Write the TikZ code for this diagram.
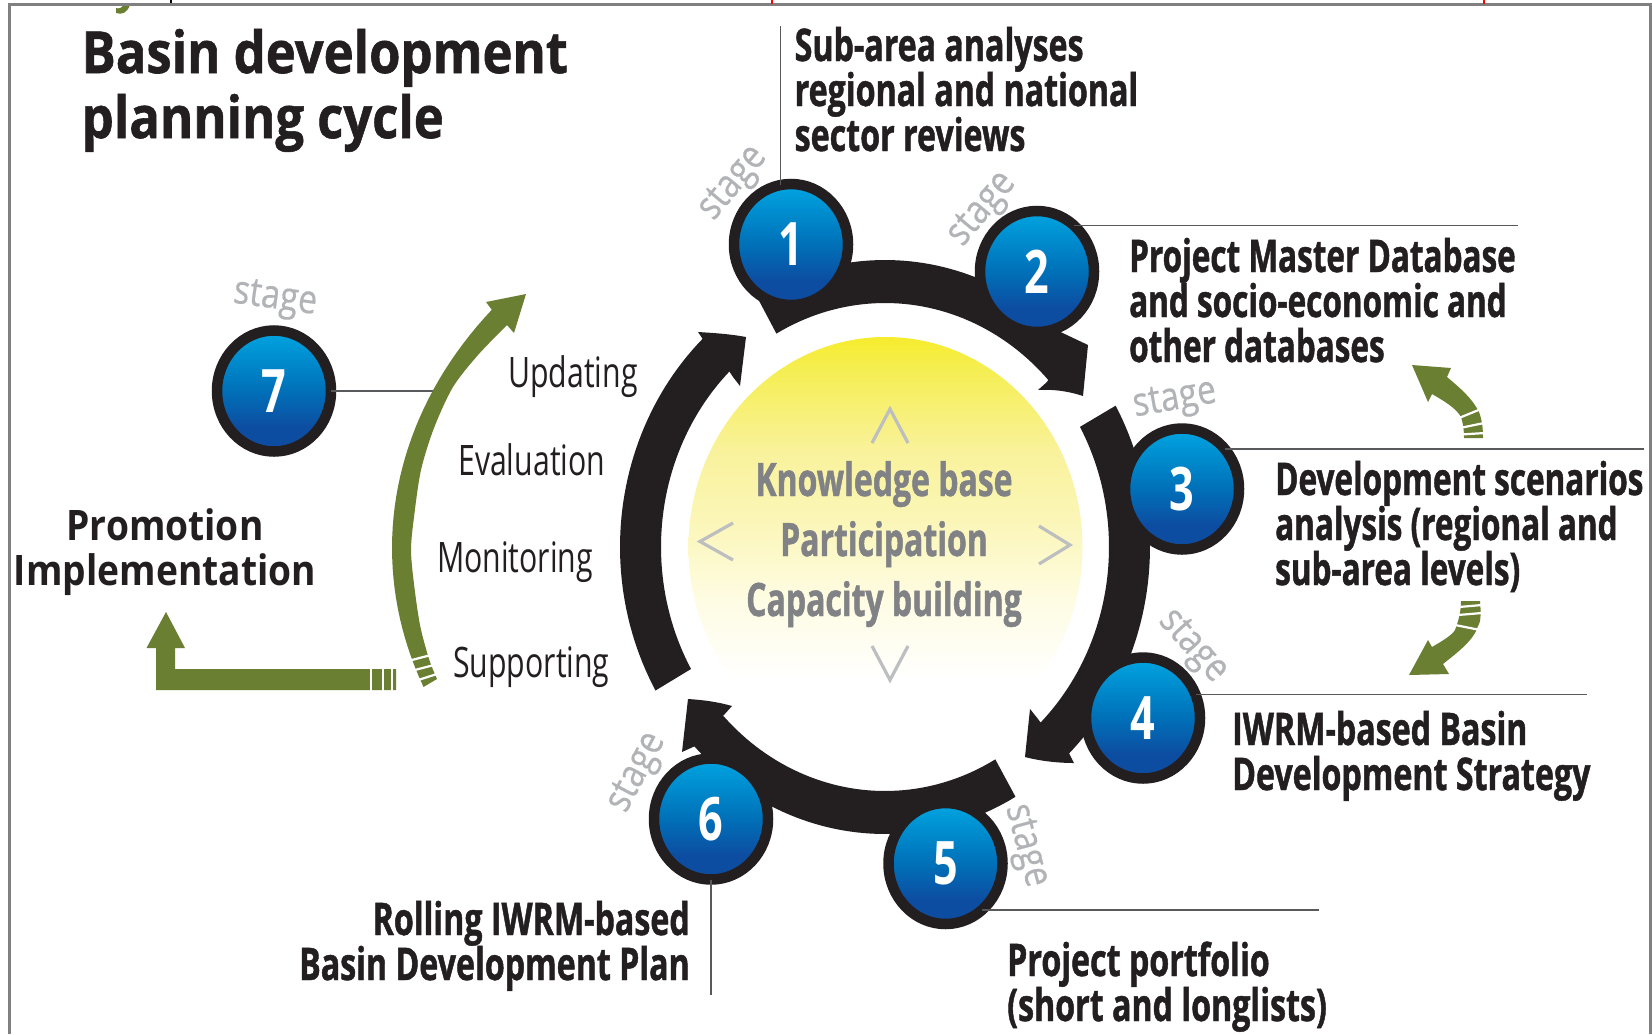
\documentclass[tikz,border=0pt]{standalone}
\usepackage{fontspec}
\usetikzlibrary{shapes.geometric}
\setmainfont{Open Sans}
\newfontfamily\lblfont[FakeStretch=.70,BoldFeatures={FakeBold=1}]{Open Sans}
\newfontfamily\lblwide[FakeStretch=.715,BoldFeatures={FakeBold=1}]{Open Sans}
\newfontfamily\ctrfont[FakeStretch=.695,BoldFeatures={FakeBold=1}]{Open Sans}
\newfontfamily\titlefont[FakeStretch=.875,BoldFeatures={FakeBold=1}]{Open Sans}
\newfontfamily\promofont[FakeStretch=.885]{Open Sans}
\newfontfamily\regfont[FakeStretch=.72]{Open Sans}
\newfontfamily\numfont[FakeStretch=.72]{Open Sans}
\newfontfamily\stagefont[FakeStretch=.84,FakeBold=.4]{Open Sans}
\definecolor{ink}{HTML}{231F20}
\definecolor{leaf}{HTML}{6B7F32}
\definecolor{ctrgray}{HTML}{808285}
\definecolor{chev}{HTML}{BCBEC0}
\definecolor{stagegray}{HTML}{B1B3B6}
\definecolor{rule}{HTML}{58595B}
\definecolor{frame}{HTML}{808080}
\definecolor{bluedeep}{HTML}{0D4DA1}
\definecolor{bluemid}{HTML}{0070B8}
\definecolor{bluetop}{HTML}{00A3E0}
\definecolor{yolka}{HTML}{FEFCE3}
\definecolor{yolkb}{HTML}{FBF6B8}
\definecolor{yolkc}{HTML}{F9F29B}
\definecolor{yolke}{HTML}{F5EE50}
\definecolor{yolkd}{HTML}{F6EC2D}
\pgfdeclareverticalshading{bluey}{100bp}{color(0bp)=(bluedeep);color(35bp)=(bluedeep);color(50bp)=(bluemid);color(74bp)=(bluetop);color(100bp)=(bluetop)}
\pgfdeclareverticalshading{yolk}{100bp}{color(0bp)=(white);color(34bp)=(white);color(43.7bp)=(yolka);color(53bp)=(yolkb);color(61.5bp)=(yolkc);color(71.4bp)=(yolke);color(75bp)=(yolkd);color(100bp)=(yolkd)}
\newcommand\ox{{885+265*cos(\x)}}
\newcommand\oy{{547-287*sin(\x)}}
\newcommand\ix{{885+224*cos(\x)}}
\newcommand\iy{{547-244*sin(\x)}}
\tikzset{
  x=1pt,y=-1pt,
  stagenum/.style={ellipse,draw=ink,line width=10.5pt,shading=bluey,minimum width=114pt,minimum height=121pt,inner sep=0pt,outer sep=0pt,text=white,font=\numfont\bfseries\fontsize{60}{60}\selectfont},
  stagetxt/.style={text=stagegray,inner sep=0pt,font=\stagefont\fontsize{40}{40}\selectfont},
  lbl/.style={text=ink,inner sep=0pt,align=left,anchor=base west,font=\lblfont\bfseries\fontsize{45}{45}\selectfont},
  lblw/.style={lbl,font=\lblwide\bfseries\fontsize{45}{45}\selectfont},
  reglbl/.style={text=ink,inner sep=0pt,anchor=base west,font=\regfont\fontsize{42}{42}\selectfont},
  leader/.style={draw=rule,line width=1.6pt},
  chevron/.style={draw=chev,line width=3.2pt,miter limit=20},
  slit/.style={draw=white,line width=2.2pt},
  arcs/.style={samples=50},
}
\begin{document}
\begin{tikzpicture}
\useasboundingbox (0,0) rectangle (1652,1034);
\fill[white] (0,0) rectangle (1652,1034);
% frame
\fill[leaf] (116,13) .. controls (122,15) and (127,13) .. (130,5) -- (123,5) .. controls (122,8) and (119,9) .. (116,8) -- cycle;
\draw[frame,line width=3pt] (9,1034) -- (9,4.5) -- (1650.5,4.5) -- (1650.5,1034);
\draw[black,line width=2.5pt] (171,0) -- (171,3);
\draw[red,line width=2pt] (772,0) -- (772,4);
\draw[red,line width=2pt] (1484,0) -- (1484,4);
% yolk
\path[shading=yolk] (885.5,547) ellipse [x radius=197pt,y radius=210pt];
\node[text=ctrgray,inner sep=0pt,align=center,anchor=base,font=\ctrfont\bfseries\fontsize{46}{60}\selectfont] (core) at (884,616) {Knowledge base\\Participation\\Capacity building};
\draw[chevron] (872,443) -- (890,409) -- (908,443);
\draw[chevron] (872,646) -- (890,680) -- (908,646);
\draw[chevron] (733,523) -- (700,541.5) -- (733,560);
\draw[chevron] (1039,526) -- (1070,545) -- (1039,564);
% ring
\fill[ink] plot[arcs,domain=119:48.5] (\ox,\oy) -- (1088,345) -- (1083,396) .. controls (1068,391) and (1052,389) .. (1038,390) -- (1047,382) -- plot[arcs,domain=43.2:119] (\ix,\iy) -- cycle;
\fill[ink] plot[arcs,domain=29.5:-46] (\ox,\oy) -- (1074,763) .. controls (1058,763) and (1040,761) .. (1025,757) -- (1030,709) -- (1038,719) -- plot[arcs,domain=-46:29.5] (\ix,\iy) -- cycle;
\fill[ink] plot[arcs,domain=-60.5:-136] (\ox,\oy) -- (682,752) -- (688,699) .. controls (704,700) and (718,702) .. (732,706) -- (723,716) -- plot[arcs,domain=-136:-60.5] (\ix,\iy) -- cycle;
\fill[ink] plot[arcs,domain=210:133.5] (\ox,\oy) -- (698,332) .. controls (714,333) and (730,334) .. (746,337) -- (740,386) -- (733,377) -- plot[arcs,domain=134:210] (\ix,\iy) -- cycle;
% stage discs
\node[stagenum] (c1) at (791,244.5) {1};
\node[stagenum] (c2) at (1037,271.5) {2};
\node[stagenum] (c3) at (1182,489) {3};
\node[stagenum] (c4) at (1143,718) {4};
\node[stagenum] (c5) at (945.5,863.5) {5};
\node[stagenum] (c6) at (711,819) {6};
\node[stagenum] (c7) at (274,391) {7};
% stage words
\node[stagetxt,rotate=50] (s1) at (734,184) {stage};
\node[stagetxt,rotate=50] (s2) at (983,210) {stage};
\node[stagetxt,rotate=10] (s3) at (1175,401) {stage};
\node[stagetxt,rotate=-48] (s4) at (1192,647) {stage};
\node[stagetxt,rotate=-75] (s5) at (1025,846) {stage};
\node[stagetxt,rotate=62] (s6) at (638,773) {stage};
\node[stagetxt,rotate=-8] (s7) at (275,300) {stage};
% leaders
\coordinate (e1) at (c1.100 |- 0,26);
\coordinate (e2) at (1518,225);
\coordinate (e3) at (1644,449);
\coordinate (e4) at (1587,695);
\coordinate (e5) at (1319,910);
\coordinate (e6) at (711,995);
\coordinate (e7) at (436,391);
\draw[leader] (c1.100) -- (e1);
\draw[leader] (c2.51) -- (c2.51 -| e2);
\draw[leader] (c3.43) -- (c3.43 -| e3);
\draw[leader] (c4.24) -- (c4.24 -| e4);
\draw[leader] (c5.-52) -- (c5.-52 -| e5);
\draw[leader] (c6.south) -- (e6);
\draw[leader] (c7.east) -- (e7);
% labels
\node[text=ink,inner sep=0pt,align=left,anchor=base west,font=\titlefont\bfseries\fontsize{58}{65}\selectfont] (title) at (81.5,138) {Basin development\\planning cycle};
\node[lblw] (t1) at (794.5,151) {Sub-area analyses\\regional and national\\sector reviews};
\node[lbl] (t2) at (1129,362) {Project Master Database\\and socio-economic and\\other databases};
\node[lbl] (t3) at (1275,585) {Development scenarios\\analysis (regional and\\sub-area levels)};
\node[lblw] (t4) at (1232,790) {IWRM-based Basin\\Development Strategy};
\node[lblw] (t5) at (1007,1021) {Project portfolio\\(short and longlists)};
\node[lblw,align=right,anchor=base east] (t6) at (690,980) {Rolling IWRM-based\\Basin Development Plan};
\node[text=ink,inner sep=0pt,align=center,anchor=base,font=\promofont\bfseries\fontsize{42}{45}\selectfont] (t7) at (165,585) {Promotion\\Implementation};
\node[reglbl] (u1) at (508,387) {Updating};
\node[reglbl] (u2) at (458,475) {Evaluation};
\node[reglbl] (u3) at (437,572) {Monitoring};
\node[reglbl] (u4) at (453,677) {Supporting};
% green arc arrow
\fill[leaf] plot[domain=-20.6:37.1,samples=40] ({885-493*cos(\x)},{548-395*sin(\x)}) -- (486,302) -- (526,294) -- (514,333) -- (507,325) -- plot[smooth,tension=.5] coordinates {(507,325) (478,355) (453,387) (434,428) (421,470) (414,517) (411,550) (414,584) (420,625) (429,659) (437,679)} -- cycle;
\draw[slit] (408,661) -- (431,655);
\draw[slit] (411,671) -- (434,665);
\draw[slit] (415,681) -- (437,674);
% green L arrow
\fill[leaf] (396,669) -- (175,669) -- (175,648) -- (185,648) -- (166,612) -- (146.5,648) -- (156,648) -- (156,690) -- (396,690) -- cycle;
\draw[slit] (371,668) -- (371,691);
\draw[slit] (383,668) -- (383,691);
\draw[slit] (392,668) -- (392,691);
% small arrow up
\fill[leaf] (1464,438) -- (1483,438) .. controls (1483,428) and (1482,420) .. (1479,412) .. controls (1472,398) and (1460,388) .. (1447,377) -- (1451,368) -- (1412,365) -- (1428,402) -- (1432,394) .. controls (1444,401) and (1456,408) .. (1461,417) .. controls (1463,423) and (1464,430) .. (1464,438) -- cycle;
\draw[slit] (1459,418) -- (1481,409);
\draw[slit] (1460,428) -- (1484,423);
\draw[slit] (1461,434.5) -- (1485,433);
% small arrow down
\fill[leaf] (1461,601) -- (1480,601) .. controls (1481,612) and (1481,622) .. (1478,626) .. controls (1474,640) and (1458,652) .. (1443,664) -- (1449,674) -- (1409,675) -- (1428,640) -- (1432,647) .. controls (1444,640) and (1452,635) .. (1455,630) .. controls (1459,620) and (1461,610) .. (1461,601) -- cycle;
\draw[slit] (1459,607) -- (1482,605);
\draw[slit] (1458,615) -- (1482,613);
\draw[slit] (1455,625) -- (1480,630);
\end{tikzpicture}
\end{document}
